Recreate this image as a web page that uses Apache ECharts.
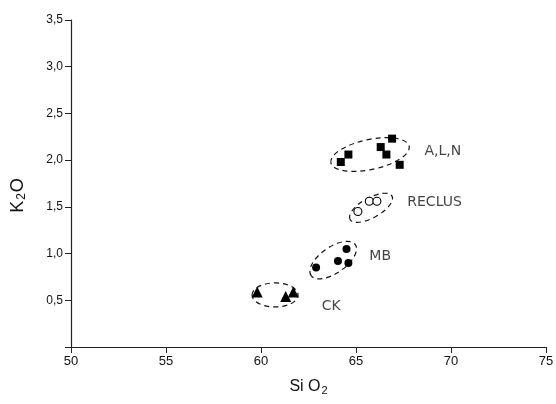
<!DOCTYPE html>
<html><head><meta charset="utf-8">
<script src="https://cdn.jsdelivr.net/npm/echarts@6/dist/echarts.min.js"></script>
<style>html,body{margin:0;padding:0;background:#fff}#c{width:556px;height:404px}</style>
</head><body><div id="c"></div>
<script>
// SiO2 (x), K2O (y)
const alnPoints = [[64.2,1.98],[64.6,2.06],[66.3,2.14],[66.6,2.06],[66.9,2.23],[67.3,1.95]];
const reclusPoints = [[65.1,1.45],[65.7,1.56],[66.1,1.56]];
const mbPoints = [[62.9,0.85],[64.05,0.92],[64.6,0.90],[64.5,1.05]];
const ckPoints = [[59.8,0.59],[61.3,0.54],[61.7,0.59]];
const groupNames = ['A,L,N','RECLUS','MB','CK'];
const labelAnchors = [[68.6,2.09],[67.7,1.55],[65.7,0.965],[63.2,0.44]];
const ellipseCenters = [[65.74,2.06],[65.79,1.49],[63.8,0.93],[60.74,0.557]];
const xTicks = [50,55,60,65,70,75];
const yTicks = [0.5,1.0,1.5,2.0,2.5,3.0,3.5];

// ellipse shapes (pixels, degrees) – styling only
const ellipseStyle = [
  {rx:40, ry:15, rot:12},
  {rx:24, ry:10, rot:29},
  {rx:27, ry:13, rot:35},
  {rx:23, ry:12, rot:0}
];

const chart = echarts.init(document.getElementById('c'), null, {renderer:'canvas'});
const ink = '#000';
const axisCol = '#222';
chart.setOption({
  animation:false,
  backgroundColor:'#fff',
  grid:{left:71, right:10, top:20, bottom:57, containLabel:false, outerBoundsMode:'none'},
  xAxis:{
    type:'value', min:xTicks[0], max:xTicks[xTicks.length-1], interval:5,
    axisLine:{lineStyle:{color:axisCol, width:1.2}},
    axisTick:{show:true, length:6, lineStyle:{color:axisCol}},
    splitLine:{show:false},
    axisLabel:{color:'#111', fontSize:13, fontFamily:'Liberation Sans', margin:8},
    name:'{a|Si O}{b|2}', nameLocation:'middle', nameGap:30,
    nameTextStyle:{rich:{a:{fontSize:16, color:'#111', fontFamily:'Liberation Sans'}, b:{fontSize:11, color:'#111', verticalAlign:'bottom', padding:[8,0,0,1], fontFamily:'Liberation Sans'}}}
  },
  yAxis:{
    type:'value', min:0, max:yTicks[yTicks.length-1], interval:0.5,
    axisLine:{show:true, lineStyle:{color:axisCol, width:1.2}},
    axisTick:{show:true, length:6, lineStyle:{color:axisCol}},
    splitLine:{show:false},
    axisLabel:{color:'#111', fontSize:12, fontFamily:'Liberation Sans', margin:8,
      formatter:v => v === 0 ? '' : v.toFixed(1).replace('.', ',')},
    name:'{a|K}{b|2}{a|O}', nameLocation:'middle', nameGap:43,
    nameTextStyle:{padding:[0,24,0,0], rich:{a:{fontSize:18, color:'#111', fontFamily:'Liberation Sans'}, b:{fontSize:12, color:'#111', verticalAlign:'bottom', padding:[8,1,0,1], fontFamily:'Liberation Sans'}}}
  },
  series:[
    {type:'scatter', data:alnPoints, symbol:'rect', symbolSize:8, itemStyle:{color:ink, opacity:1}},
    {type:'scatter', data:reclusPoints, symbol:'circle', symbolSize:8, itemStyle:{color:'#fff', borderColor:ink, borderWidth:1.1, opacity:1}},
    {type:'scatter', data:mbPoints, symbol:'circle', symbolSize:8, itemStyle:{color:ink, opacity:1}},
    {type:'scatter', data:ckPoints, symbol:'triangle', symbolSize:11, itemStyle:{color:ink, opacity:1}},
    {type:'custom', data:ellipseCenters, silent:true,
      renderItem:(params, api) => {
        const p = api.coord([api.value(0), api.value(1)]);
        const e = ellipseStyle[params.dataIndex];
        return {type:'ellipse', x:p[0], y:p[1], rotation:e.rot*Math.PI/180,
          shape:{cx:0, cy:0, rx:e.rx, ry:e.ry},
          style:{fill:'none', stroke:'#111', lineWidth:1.2, lineDash:[5,4]}};
      }},
    {type:'scatter', symbolSize:0, silent:true,
      data:labelAnchors.map((v,i)=>({value:v, name:groupNames[i]})),
      label:{show:true, position:'right', distance:0, formatter:'{b}', color:'#111', fontSize:14, fontFamily:'DejaVu Sans'}}
  ]
});
</script></body></html>
